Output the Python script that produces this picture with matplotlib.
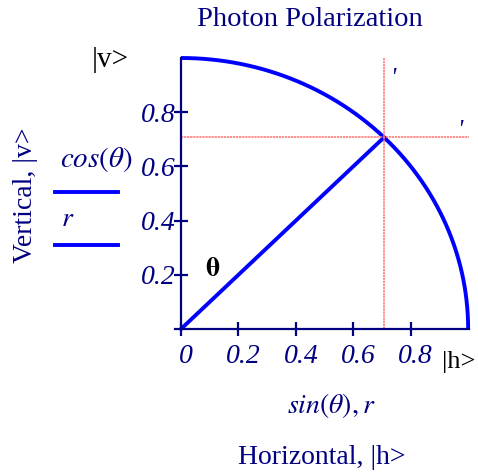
import numpy as np
import matplotlib
matplotlib.use('Agg')
import matplotlib.pyplot as plt
import matplotlib.transforms as mtransforms

plt.rcParams['font.family'] = ['Liberation Serif', 'DejaVu Serif']
plt.rcParams['mathtext.fontset'] = 'stix'

# data
theta_deg = np.linspace(0, 90, 181)      # sweep of the polarization angle
r_vals = [0.0, 1.0]                       # radius of the state vector
theta_pick = 45.0                         # angle of the marked state
x_ticks = [0, 0.2, 0.4, 0.6, 0.8]
y_ticks = [0.2, 0.4, 0.6, 0.8]

navy = '#000080'
blue = '#0000ff'

fig = plt.figure(figsize=(4.78, 4.72), dpi=100)
ax = fig.add_axes([181 / 478, 1 - 329 / 472, 288 / 478, 271 / 472])

th = np.radians(theta_deg)
ax.plot(np.sin(th), np.cos(th), color=blue, lw=2.8, solid_capstyle='butt', clip_on=False)

tp = np.radians(theta_pick)
r = np.array(r_vals)
ax.plot(r * np.sin(tp), r * np.cos(tp), color=blue, lw=2.8, clip_on=False)

# marker lines
ax.axvline(np.sin(tp), color='#ff7070', lw=1.1, ls=(0, (1.5, 0.5)))
ax.axhline(np.cos(tp), color='#ff7070', lw=1.1, ls=(0, (1.5, 0.5)))
ax.text(np.sin(tp) + 0.02, 0.90, "'", color=navy, fontsize=18, style='italic')
ax.text(0.96, np.cos(tp) + 0.0, "'", color=navy, fontsize=18, style='italic')

ax.set_xlim(0, 1.003)
ax.set_ylim(0, 1.0)
for s in ['top', 'right']:
    ax.spines[s].set_visible(False)
for s in ['left', 'bottom']:
    ax.spines[s].set_color(navy)
    ax.spines[s].set_linewidth(1.6)
ax.spines['bottom'].set_bounds(-0.02, 1.003)

ax.set_xticks(x_ticks)
ax.set_xticklabels(['0', '0.2', '0.4', '0.6', '0.8'])
ax.set_yticks(y_ticks)
ax.set_yticklabels(['0.2', '0.4', '0.6', '0.8'])
ax.tick_params(direction='inout', length=10, width=1.6, color=navy,
               labelcolor=navy, labelsize=20)
ax.tick_params(axis='x', pad=6)
ax.tick_params(axis='y', pad=-1)
shift = mtransforms.ScaledTranslation(5 / 100, 0, fig.dpi_scale_trans)
for lab in ax.get_xticklabels():
    lab.set_style('italic')
    lab.set_transform(lab.get_transform() + shift)
for lab in ax.get_yticklabels():
    lab.set_style('italic')

ax.text(0.11, 0.22, r'$\mathbf{\theta}$', color='black', fontsize=20,
        ha='center', va='center')

# titles and labels
fig.text(310 / 478, 1 - 20 / 472, 'Photon Polarization', color=navy,
         fontsize=20.5, ha='center', va='center')
fig.text(331 / 478, 1 - 405 / 472, r'$sin\left(\theta\right), r$', color=navy,
         fontsize=20, ha='center', va='center')
fig.text(322 / 478, 1 - 457 / 472, 'Horizontal, |h>', color=navy,
         fontsize=20, ha='center', va='center')
fig.text(25 / 478, 1 - 195 / 472, 'Vertical, |v>', color=navy,
         fontsize=20, ha='center', va='center', rotation=90)
fig.text(110 / 478, 1 - 60 / 472, '|v>', color='black',
         fontsize=21, ha='center', va='center')
fig.text(442 / 478, 1 - 362 / 472, '|h>', color='black',
         fontsize=19, ha='left', va='center')

# legend
fig.text(60 / 478, 1 - 160 / 472, r'$cos\left(\theta\right)$', color=navy,
         fontsize=21, ha='left', va='center')
fig.add_artist(plt.Line2D([55 / 478, 118 / 478], [1 - 192 / 472, 1 - 192 / 472],
                          color=blue, lw=2.8))
fig.text(61 / 478, 1 - 220 / 472, r'$r$', color=navy,
         fontsize=20, ha='left', va='center')
fig.add_artist(plt.Line2D([55 / 478, 118 / 478], [1 - 245 / 472, 1 - 245 / 472],
                          color=blue, lw=2.8))

fig.savefig('out.png', dpi=100)
